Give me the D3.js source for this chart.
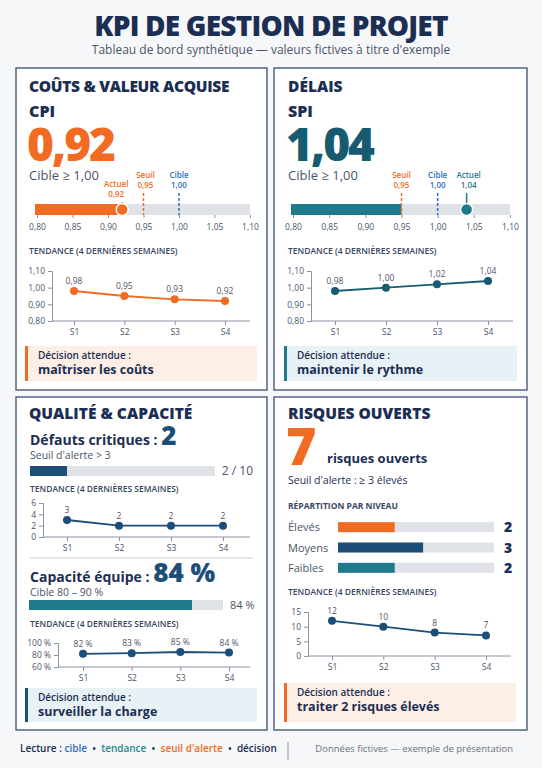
<!DOCTYPE html>
<html><head><meta charset="utf-8">
<script src="https://cdn.jsdelivr.net/npm/d3@7/dist/d3.min.js"></script>
<style>
body{margin:0;background:#f6f7f9;}
text{font-family:"Open Sans","Noto Sans",sans-serif;}
</style></head>
<body><svg id="c" width="542" height="768"></svg>
<script>
// data
const weeks = ["S1", "S2", "S3", "S4"];
const cpiTrend = [0.98, 0.95, 0.93, 0.92];
const spiTrend = [0.98, 1.00, 1.02, 1.04];
const defectTrend = [3, 2, 2, 2];
const capacityTrend = [82, 83, 85, 84];
const riskTrend = [12, 10, 8, 7];
const indexTicks = [0.80, 0.85, 0.90, 0.95, 1.00, 1.05, 1.10];
const riskLevels = ["Élevés", "Moyens", "Faibles"];
const riskCounts = [2, 3, 2];
const cpi = 0.92, spi = 1.04, seuil = 0.95, cible = 1.00;
const defects = 2, defectsMax = 10, capacity = 84, openRisks = 7;

const NAVY = "#1c2e52", OR = "#f26b22", TEAL = "#1f7a8c", DB = "#1d4e78",
      GRAY = "#dfe2e6", BLUE = "#2a6fc0", TXT = "#4a5568";
const fr = d3.formatLocale({decimal: ",", thousands: " ", grouping: [3]});
const f2 = fr.format(".2f");

const svg = d3.select("#c");

function txt(x, y, s, size, opt = {}) {
  return svg.append("text").attr("x", x).attr("y", y).text(s)
    .attr("font-size", size).attr("fill", opt.fill || NAVY)
    .attr("font-weight", opt.w || 400).attr("text-anchor", opt.a || "start");
}

// title
txt(271, 36, "KPI DE GESTION DE PROJET", 28, {w: 800, a: "middle"}).attr("letter-spacing", -0.8);
txt(271, 54, "Tableau de bord synthétique — valeurs fictives à titre d'exemple", 12, {fill: TXT, a: "middle"});

// panels
[[16, 68, 251, 322], [274, 68, 253, 322], [16, 397, 251, 333], [274, 397, 253, 333]].forEach(p =>
  svg.append("rect").attr("x", p[0]).attr("y", p[1]).attr("width", p[2]).attr("height", p[3])
    .attr("fill", "#fff").attr("stroke", "#3a4d70").attr("stroke-width", 1.3));

function trend(o) {
  const x = d3.scalePoint().domain(weeks).range([o.s1, o.s4]);
  const y = d3.scaleLinear().domain(o.dom).range([o.y1, o.y0]);
  const g = svg.append("g");
  const ay = g.append("g").attr("transform", `translate(${o.ax},0)`)
    .call(d3.axisLeft(y).tickValues(o.ticks).tickFormat(o.fmt).tickSize(4).tickPadding(3));
  const ax = g.append("g").attr("transform", `translate(0,${o.y1})`)
    .call(d3.axisBottom(x).tickSize(4).tickPadding(4));
  ax.select(".domain").attr("d", `M${o.ax},0H${o.xEnd}`);
  [ay, ax].forEach(a => {
    a.selectAll("path,line").attr("stroke", "#8a94a3");
    a.selectAll("text").attr("font-size", 8.5).attr("fill", TXT)
      .style("font-family", '"Open Sans",sans-serif');
  });
  g.append("path").datum(o.vals).attr("fill", "none").attr("stroke", o.c).attr("stroke-width", 1.8)
    .attr("d", d3.line().x((d, i) => x(weeks[i])).y(d => y(d)));
  g.selectAll("circle").data(o.vals).join("circle").attr("cx", (d, i) => x(weeks[i]))
    .attr("cy", d => y(d)).attr("r", 4).attr("fill", o.c);
  g.selectAll(".lb").data(o.vals).join("text").attr("x", (d, i) => x(weeks[i]))
    .attr("y", d => y(d) - 7).attr("text-anchor", "middle").attr("font-size", 8.5)
    .attr("fill", TXT).text(o.lab);
}

function decision(x, y, w, h, bg, bar, line) {
  svg.append("rect").attr("x", x).attr("y", y).attr("width", w).attr("height", h).attr("fill", bg);
  svg.append("rect").attr("x", x).attr("y", y).attr("width", 3).attr("height", h).attr("fill", bar);
  txt(x + 13, y + 13, "Décision attendue :", 10, {w: 600});
  txt(x + 13, y + 28, line, 12.5, {w: 700});
}

function gauge(x0, x1, val, fillTo, fillC, dotC, marks) {
  const s = d3.scaleLinear().domain([0.80, 1.10]).range([x0, x1]);
  svg.append("rect").attr("x", x0 - 2).attr("y", 204).attr("width", x1 - x0 + 2).attr("height", 11).attr("fill", GRAY);
  svg.append("rect").attr("x", x0 - 2).attr("y", 204).attr("width", s(fillTo) - x0 + 2).attr("height", 11).attr("fill", fillC);
  marks.forEach(m => {
    svg.append("line").attr("x1", s(m.v)).attr("x2", s(m.v)).attr("y1", m.ty + 15).attr("y2", 215)
      .attr("stroke", m.c).attr("stroke-width", 1.5).attr("stroke-dasharray", m.dash ? "3,2" : null);
    txt(s(m.v) + (m.dx || 0), m.ty, m.t, 8, {fill: m.c, w: 600, a: "middle"});
    txt(s(m.v) + (m.dx || 0), m.ty + 10, f2(m.v), 8, {fill: m.c, w: 600, a: "middle"});
  });
  svg.append("circle").attr("cx", s(val)).attr("cy", 209.5).attr("r", 6).attr("fill", dotC)
    .attr("stroke", "#fff").attr("stroke-width", 1.5);
  const a = svg.append("g").attr("transform", "translate(0,215)")
    .call(d3.axisBottom(s).tickValues(indexTicks).tickFormat(f2).tickSize(3));
  a.select(".domain").remove();
  a.selectAll("line").attr("stroke", "#8a94a3");
  a.selectAll("text").attr("font-size", 8.5).attr("fill", TXT).attr("dy", "1em");
}

const tendance = (x, y) => txt(x, y, "TENDANCE (4 DERNIÈRES SEMAINES)", 8.5, {w: 600, fill: "#3a4660"});

// panel 1
txt(29, 92, "COÛTS & VALEUR ACQUISE", 15.5, {w: 800}).attr("letter-spacing", -0.3);
txt(29, 117, "CPI", 16, {w: 800});
txt(27, 161, f2(cpi), 46, {w: 800, fill: OR}).attr("letter-spacing", -2);
txt(29, 180, "Cible ≥ 1,00", 13, {fill: TXT});
gauge(37, 250, cpi, cpi, OR, OR, [
  {v: cpi, t: "Actuel", c: OR, ty: 187, dash: false, dx: -6},
  {v: seuil, t: "Seuil", c: OR, ty: 178, dash: true, dx: 2},
  {v: cible, t: "Cible", c: BLUE, ty: 178, dash: true}]);
tendance(29, 254);
trend({vals: cpiTrend, c: OR, s1: 74, s4: 225, ax: 52, xEnd: 250, y0: 271, y1: 321,
  dom: [0.80, 1.10], ticks: [0.80, 0.90, 1.00, 1.10], fmt: f2, lab: f2});
decision(25, 346, 232, 35, "#fdeee6", OR, "maîtriser les coûts");

// panel 2
txt(288, 92, "DÉLAIS", 15.5, {w: 800});
txt(288, 117, "SPI", 16, {w: 800});
txt(286, 161, f2(spi), 46, {w: 800, fill: "#165b70"}).attr("letter-spacing", -2);
txt(288, 180, "Cible ≥ 1,00", 13, {fill: TXT});
gauge(293, 510, spi, seuil, TEAL, TEAL, [
  {v: seuil, t: "Seuil", c: OR, ty: 178, dash: true},
  {v: cible, t: "Cible", c: BLUE, ty: 178, dash: true},
  {v: spi, t: "Actuel", c: TEAL, ty: 178, dash: false, dx: 2}]);
tendance(288, 254);
trend({vals: spiTrend, c: "#165b70", s1: 335, s4: 488, ax: 311, xEnd: 513, y0: 271, y1: 321,
  dom: [0.80, 1.10], ticks: [0.80, 0.90, 1.00, 1.10], fmt: f2, lab: f2});
decision(284, 346, 233, 35, "#e8f1f6", TEAL, "maintenir le rythme");

// panel 3
txt(29, 419, "QUALITÉ & CAPACITÉ", 15.5, {w: 800});
const d1 = txt(30, 445, "Défauts critiques : ", 14, {w: 700});
d1.append("tspan").attr("font-size", 26).attr("fill", DB).attr("font-weight", 800).text(defects);
txt(30, 459, "Seuil d'alerte > 3", 10.5, {fill: TXT});
const sd = d3.scaleLinear().domain([0, defectsMax]).range([30, 215]);
svg.append("rect").attr("x", 30).attr("y", 466).attr("width", sd(defectsMax) - 30).attr("height", 10).attr("fill", GRAY);
svg.append("rect").attr("x", 30).attr("y", 466).attr("width", sd(defects) - 30).attr("height", 10).attr("fill", DB);
txt(253, 475, `${defects} / ${defectsMax}`, 12, {a: "end", fill: TXT});
tendance(30, 492);
trend({vals: defectTrend, c: DB, s1: 67, s4: 223, ax: 43, xEnd: 250, y0: 503, y1: 537,
  dom: [0, 6], ticks: [0, 2, 4, 6], fmt: d3.format("d"), lab: d3.format("d")});
svg.append("line").attr("x1", 30).attr("x2", 253).attr("y1", 558).attr("y2", 558).attr("stroke", "#c9ced6");
const c1 = txt(30, 582, "Capacité équipe : ", 14, {w: 700});
c1.append("tspan").attr("font-size", 26).attr("fill", DB).attr("font-weight", 800).text(`${capacity} %`);
txt(30, 596, "Cible 80 – 90 %", 10.5, {fill: TXT});
const sc = d3.scaleLinear().domain([0, 100]).range([29, 223]);
svg.append("rect").attr("x", 29).attr("y", 600).attr("width", sc(100) - 29).attr("height", 10).attr("fill", GRAY);
svg.append("rect").attr("x", 29).attr("y", 600).attr("width", sc(capacity) - 29).attr("height", 10).attr("fill", TEAL);
txt(230, 609, `${capacity} %`, 11, {fill: TXT});
tendance(30, 627);
const pct = d => `${d} %`;
trend({vals: capacityTrend, c: DB, s1: 83, s4: 229, ax: 58, xEnd: 250, y0: 643, y1: 667,
  dom: [60, 100], ticks: [60, 80, 100], fmt: pct, lab: pct});
decision(25, 688, 232, 34, "#e8f1f6", DB, "surveiller la charge");

// panel 4
txt(288, 419, "RISQUES OUVERTS", 15.5, {w: 800});
txt(286, 465, openRisks, 52, {w: 800, fill: OR});
txt(327, 463, "risques ouverts", 13, {w: 700});
txt(288, 484, "Seuil d'alerte : ≥ 3 élevés", 10.5, {});
txt(288, 509, "RÉPARTITION PAR NIVEAU", 8.5, {w: 700, fill: "#3a4660"});
const sy = d3.scaleBand().domain(riskLevels).range([517, 578]);
const sr = d3.scaleLinear().domain([0, 5.5]).range([338, 494]);
const rc = [OR, DB, TEAL];
riskLevels.forEach((k, i) => {
  const yc = sy(k) + sy.bandwidth() / 2;
  txt(288, yc + 4, k, 11, {fill: TXT});
  svg.append("rect").attr("x", 338).attr("y", yc - 5).attr("width", sr.range()[1] - 338).attr("height", 10).attr("fill", GRAY);
  svg.append("rect").attr("x", 338).attr("y", yc - 5).attr("width", sr(riskCounts[i]) - 338).attr("height", 10).attr("fill", rc[i]);
  txt(508, yc + 5, riskCounts[i], 14, {w: 800, a: "middle"});
});
tendance(288, 595);
trend({vals: riskTrend, c: DB, s1: 332, s4: 486, ax: 308, xEnd: 511, y0: 612, y1: 656,
  dom: [0, 15], ticks: [0, 5, 10, 15], fmt: d3.format("d"), lab: d3.format("d")});
decision(284, 683, 232, 39, "#fdeee6", OR, "traiter 2 risques élevés");

// footer
const lec = txt(20, 752, "Lecture : ", 10, {w: 600});
[["cible", BLUE], ["  •  ", NAVY], ["tendance", "#1d8a8a"], ["  •  ", NAVY], ["seuil d'alerte", OR], ["  •  ", NAVY], ["décision", NAVY]]
  .forEach(p => lec.append("tspan").attr("fill", p[1]).attr("xml:space", "preserve").style("white-space", "pre").text(p[0]));
svg.append("line").attr("x1", 288).attr("x2", 288).attr("y1", 742).attr("y2", 760).attr("stroke", "#8a94a3");
txt(513, 752, "Données fictives — exemple de présentation", 9.5, {a: "end", fill: "#6b7280"});
</script></body></html>
